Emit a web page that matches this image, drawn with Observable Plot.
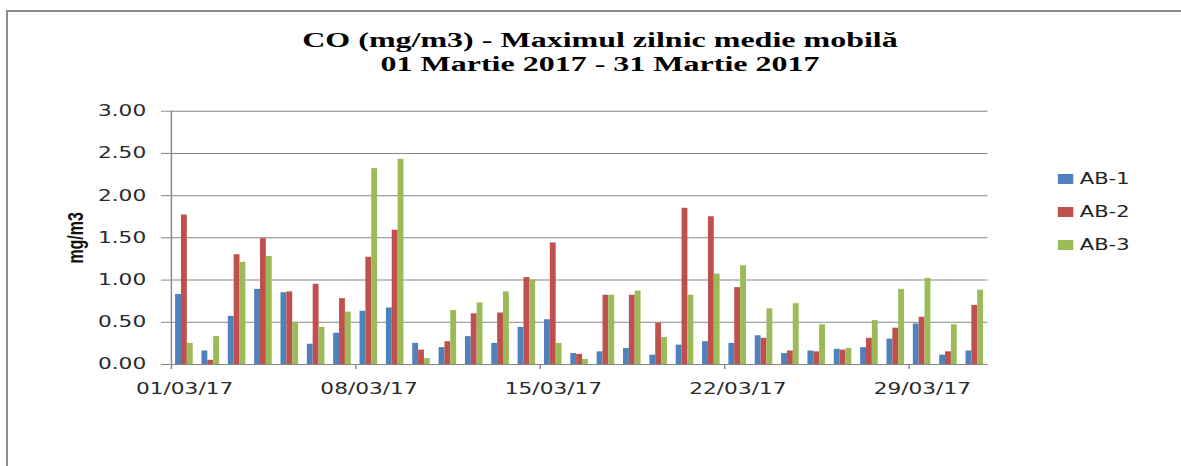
<!DOCTYPE html>
<html>
<head>
<meta charset="utf-8">
<script src="https://cdn.jsdelivr.net/npm/d3@7"></script>
<script src="https://cdn.jsdelivr.net/npm/@observablehq/plot@0.6"></script>
<style>
  html, body { margin: 0; padding: 0; background: #fff; }
  #page { position: relative; width: 1181px; height: 466px; overflow: hidden; background: #fff; }
  #frame { position: absolute; left: 6px; top: 10px; right: -4px; bottom: -4px;
           border-left: 2px solid #8c8c8c; border-top: 2px solid #8c8c8c; }
  #title { position: absolute; left: 600px; top: 28px; white-space: nowrap; text-align: center;
           font-family: "Liberation Serif", "Times New Roman", serif; font-weight: bold;
           font-size: 20px; line-height: 24px; color: #000;
           transform: translateX(-50%) scaleX(1.6); transform-origin: 50% 0; }
  #chart { position: absolute; left: 0; top: 90px; width: 844px; height: 376px;
           transform-origin: 0 0; }
  #legend { position: absolute; left: 0; top: 0; width: 844px; height: 376px; }
  .item { position: absolute; display: flex; align-items: center; white-space: nowrap;
          font-family: "DejaVu Sans", Verdana, sans-serif; font-size: 15px; color: #222; }
  .sw { width: 11px; height: 10px; margin-right: 5px; flex: none; }
</style>
</head>
<body>
<div id="page">
  <div id="frame"></div>
  <div id="title">CO (mg/m3) - Maximul zilnic medie mobilă<br>01 Martie 2017 - 31 Martie 2017</div>
  <div id="chart"><div id="legend"></div></div>
</div>
<script>
// ---- data ----
const days = d3.range(1, 32);
const seriesNames = ["AB-1", "AB-2", "AB-3"];
const seriesColors = ["#4F81BD", "#C0504D", "#9BBB59"];
const ab1 = [0.83, 0.16, 0.57, 0.89, 0.85, 0.24, 0.37, 0.63, 0.67, 0.25,
             0.20, 0.33, 0.25, 0.44, 0.53, 0.13, 0.15, 0.19, 0.11, 0.23,
             0.27, 0.25, 0.34, 0.13, 0.16, 0.18, 0.20, 0.30, 0.48, 0.11, 0.16];
const ab2 = [1.77, 0.05, 1.30, 1.49, 0.86, 0.95, 0.78, 1.27, 1.59, 0.17,
             0.27, 0.60, 0.61, 1.03, 1.44, 0.12, 0.82, 0.82, 0.49, 1.85,
             1.75, 0.91, 0.31, 0.16, 0.15, 0.17, 0.31, 0.43, 0.56, 0.15, 0.70];
const ab3 = [0.25, 0.33, 1.21, 1.28, 0.50, 0.44, 0.62, 2.32, 2.43, 0.07,
             0.64, 0.73, 0.86, 1.00, 0.25, 0.06, 0.82, 0.87, 0.32, 0.82,
             1.07, 1.17, 0.66, 0.72, 0.47, 0.19, 0.52, 0.89, 1.02, 0.47, 0.88];
const seriesValues = [ab1, ab2, ab3];
const yTicks = [0, 0.5, 1, 1.5, 2, 2.5, 3];
const xTickDays = [1, 8, 15, 22, 29];
const xTickLabels = ["01/03/17", "08/03/17", "15/03/17", "22/03/17", "29/03/17"];
const yLabel = "mg/m3";

// ---- layout ----
const W = 844, H = 376, stretch = 1181 / W;
const mL = 122, mR = 138.3, mT = 20.7, mB = 102;
const dayW = (W - mL - mR) / days.length;
const barW = dayW / 4.5;          // 150% gap width
const pad = 0.75 * barW;
const grid = "#868686";
const tickFont = `"DejaVu Sans", Verdana, sans-serif`;

const rows = seriesNames.flatMap((s, k) => days.map((d, i) => ({day: d, series: s, k, value: seriesValues[k][i]})));

const barMarks = seriesNames.map((s, k) =>
  Plot.rectY(rows.filter(r => r.k === k), {
    x: "day", interval: 1, y: "value", fill: seriesColors[k],
    insetLeft: pad + k * barW, insetRight: dayW - pad - (k + 1) * barW
  })
);

const chart = Plot.plot({
  width: W, height: H,
  marginLeft: mL, marginRight: mR, marginTop: mT, marginBottom: mB,
  style: {fontFamily: tickFont, background: "transparent", overflow: "visible"},
  x: {domain: [1, 32], axis: null},
  y: {domain: [0, 3], axis: null},
  marks: [
    Plot.gridY(yTicks, {stroke: grid, strokeOpacity: 1, strokeWidth: 1}),
    Plot.axisY(yTicks, {tickSize: 7, tickPadding: 11, stroke: grid, strokeOpacity: 1, label: null,
      tickFormat: d3.format(".2f"), fontSize: 15.5, fill: "#2a2a2a"}),
    ...barMarks,
    Plot.ruleY([0], {stroke: grid, strokeWidth: 1}),
    Plot.ruleX([1], {stroke: grid, strokeWidth: 1}),
    Plot.ruleX(xTickDays, {x: d => d, y1: 0, y2: 0, insetBottom: -5, stroke: grid}),
    Plot.text(xTickDays, {x: d => d + 0.5, frameAnchor: "bottom", dy: 24.5,
      text: (d, i) => xTickLabels[i], fontSize: 15.5, fill: "#2a2a2a", lineAnchor: "middle"}),
    Plot.text([yLabel], {frameAnchor: "left", rotate: -90, dx: -68.5, textAnchor: "middle",
      fontFamily: `"Liberation Sans Narrow", "Liberation Sans", Arial, sans-serif`,
      fontWeight: "bold", fontSize: 16, fill: "#111"})
  ]
});

const chartDiv = document.getElementById("chart");
chartDiv.style.transform = `scaleX(${stretch})`;
chartDiv.insertBefore(chart, chartDiv.firstChild);

// legend (stretched with the chart)
const legend = document.getElementById("legend");
const legendX = 755.7, legendY0 = 179 - 90, legendStep = 33;
seriesNames.forEach((s, k) => {
  const it = document.createElement("div");
  it.className = "item";
  it.style.left = legendX + "px";
  it.style.top = (legendY0 + k * legendStep - 10) + "px";
  it.style.height = "20px";
  const sw = document.createElement("div");
  sw.className = "sw";
  sw.style.background = seriesColors[k];
  const tx = document.createElement("span");
  tx.textContent = s;
  it.appendChild(sw); it.appendChild(tx);
  legend.appendChild(it);
});
</script>
</body>
</html>
